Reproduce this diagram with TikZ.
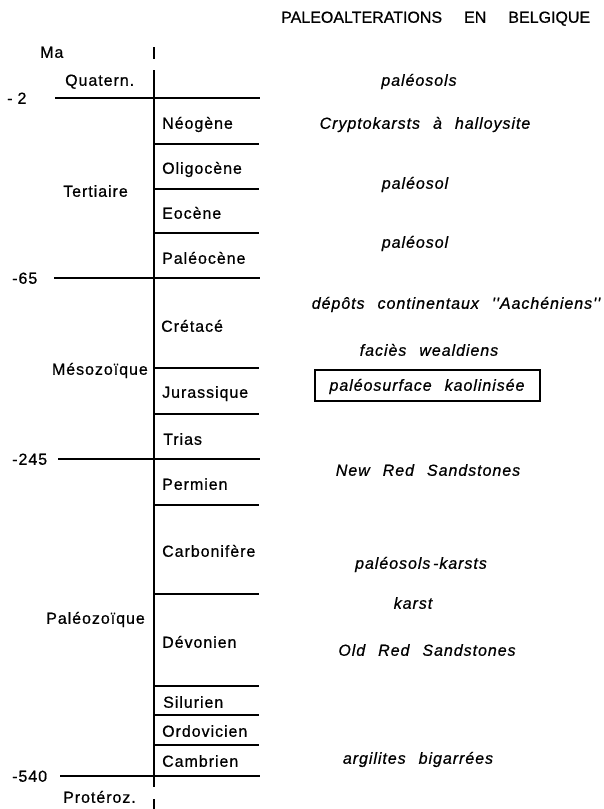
\documentclass[tikz,border=0pt]{standalone}
\usepackage{fontspec}
\setmainfont{Liberation Sans}[FakeBold=0.7]
\newfontfamily\labfont{Liberation Sans}[LetterSpace=6, FakeBold=0.7]
\newcommand\widesp[1]{\spaceskip=#1\relax}
\begin{document}
\begin{tikzpicture}[x=1pt,y=-1pt,
  lab/.style={anchor=west, inner sep=0pt, text height=11.5pt, text depth=0pt,
    font={\labfont\fontsize{16}{19}\selectfont}},
  num/.style={anchor=west, inner sep=0pt, text height=11.5pt, text depth=0pt,
    font={\labfont\fontsize{16}{19}\selectfont}},
  alt/.style={inner sep=0pt, text height=11.5pt, text depth=0pt,
    font={\labfont\itshape\fontsize{16}{19}\selectfont\widesp{13pt}}},
  ttl/.style={anchor=west, inner sep=0pt, text height=11.5pt, text depth=0pt,
    font={\fontsize{16}{19}\selectfont\widesp{22pt}}},
  bnd/.style={line width=1.4pt},
  axis/.style={line width=1.8pt},
]
\useasboundingbox (0,0) rectangle (604,809);
% title
\node[ttl] (title) at (281,17) {PALEOALTERATIONS EN BELGIQUE};
% axis
\coordinate (ttop) at (154,47);
\coordinate (tbot) at (154,59);
\coordinate (atop) at (154,70);
\coordinate (abot) at (154,787);
\coordinate (btop) at (154,799);
\coordinate (bbot) at (154,809);
\draw[axis] (ttop) -- (tbot);
\draw[axis] (atop) -- (abot);
\draw[axis] (btop) -- (bbot);
% era boundaries (long)
\draw[bnd] (55,98) -- (260,98);
\draw[bnd] (54,278) -- (260,278);
\draw[bnd] (58,459) -- (260,459);
\draw[bnd] (60,776) -- (260,776);
% period boundaries (short)
\foreach \yy in {144,189,233,368,414,505,594,686,715,745}
  \draw[bnd] (154,\yy) -- (259,\yy);
% left labels
\node[num] (ma) at (40,52) {Ma};
\node[num] (n2) at (7,98) {-\hspace{5pt}2};
\node[num] (n65) at (12,278) {-\hspace{1pt}65};
\node[num] (n245) at (12,459) {-\hspace{1pt}245};
\node[num] (n540) at (12,776) {-540};
\node[lab] (quat) at (65,80) {Quatern.};
\node[lab] (tert) at (63,191) {Tertiaire};
\node[lab, anchor=east] (meso) at (148,369) {Mésozoïque};
\node[lab, anchor=east] (paleo) at (145,618) {Paléozoïque};
\node[lab] (prot) at (63,797) {Protéroz.};
% periods
\node[lab] (neog) at (162,123) {Néogène};
\node[lab] (olig) at (162,168) {Oligocène};
\node[lab] (eoc) at (162,213) {Eocène};
\node[lab] (palc) at (162,258) {Paléocène};
\node[lab] (cret) at (161,326) {Crétacé};
\node[lab] (jur) at (162,392) {Jurassique};
\node[lab] (trias) at (163,439) {Trias};
\node[lab] (perm) at (162,484) {Permien};
\node[lab] (carb) at (162,551) {Carbonifère};
\node[lab] (dev) at (162,642) {Dévonien};
\node[lab] (sil) at (163,702) {Silurien};
\node[lab] (ord) at (162,731) {Ordovicien};
\node[lab] (camb) at (162,761) {Cambrien};
% paleoalterations
\node[alt] (a1) at (419,80) {paléosols};
\node[alt] (a2) at (425,123) {Cryptokarsts à halloysite};
\node[alt] (a3) at (415,183) {paléosol};
\node[alt] (a4) at (415,242) {paléosol};
\node[alt] (a5) at (456,303) {dépôts continentaux ''Aachéniens''};
\node[alt] (a6) at (429,350) {faciès wealdiens};
\node[alt] (a7) at (427,385) {paléosurface kaolinisée};
\draw[line width=1.4pt] (315,370) rectangle (540,401);
\node[alt] (a8) at (428,470) {New Red Sandstones};
\node[alt] (a9) at (421,563) {paléosols\,-karsts};
\node[alt] (a10) at (413,603) {karst};
\node[alt] (a11) at (427,650) {Old Red Sandstones};
\node[alt] (a12) at (418,758) {argilites bigarrées};
\end{tikzpicture}
\end{document}
